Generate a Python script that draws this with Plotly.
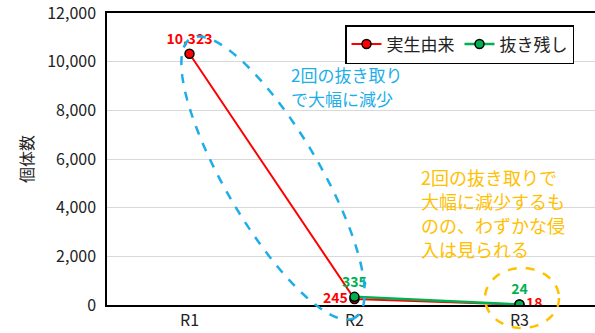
import numpy as np
import plotly.graph_objects as go

categories = ["R1", "R2", "R3"]
seedling = [10323, 245, 18]          # 実生由来
remaining = [None, 335, 24]           # 抜き残し
seedling_labels = ["10,323", "245", "18"]
remaining_labels = ["", "335", "24"]
yticks = [0, 2000, 4000, 6000, 8000, 10000, 12000]
blue_note = ["2回の抜き取り", "で大幅に減少"]
orange_note = ["2回の抜き取りで", "大幅に減少するも", "のの、わずかな侵", "入は見られる"]

W, H = 595, 333
ML, MR, MT, MB = 107, 0, 13, 28
PW, PH = W - ML - MR, H - MT - MB
XR = [-0.5, 2.458]
YR = [0, 12000]

JP = "Noto Sans CJK JP"
RED = "#FF0000"
GREEN = "#00B050"
BLUE = "#1CAEE8"
ORANGE = "#FFC000"

fig = go.Figure()
fig.add_trace(go.Scatter(
    x=categories, y=seedling, name="実生由来",
    mode="lines+markers+text",
    line=dict(color=RED, width=2),
    marker=dict(color=RED, size=9, line=dict(color="black", width=1.5)),
    text=seedling_labels,
    textposition=["top center", "middle left", "middle right"],
    textfont=dict(color=RED, size=14, family=JP, weight="bold"),
))
fig.add_trace(go.Scatter(
    x=categories, y=remaining, name="抜き残し",
    mode="lines+markers+text",
    line=dict(color=GREEN, width=2.5),
    marker=dict(color=GREEN, size=9, line=dict(color="black", width=1.5)),
    text=remaining_labels,
    textposition=["top center", "top center", "top center"],
    textfont=dict(color=GREEN, size=14, family=JP, weight="bold"),
))

def to_paper(px, py):
    return (px - ML) / PW, (H - MB - py) / PH

def ellipse_path(cx, cy, a, b, ang_deg, n=120):
    t = np.linspace(0, 2 * np.pi, n)
    ang = np.radians(ang_deg)
    xs = cx + a * np.cos(t) * np.cos(ang) - b * np.sin(t) * np.sin(ang)
    ys = cy + a * np.cos(t) * np.sin(ang) + b * np.sin(t) * np.cos(ang)
    pts = [to_paper(x, y) for x, y in zip(xs, ys)]
    return "M " + " L ".join(f"{x:.5f},{y:.5f}" for x, y in pts) + " Z"

fig.add_shape(type="path", xref="paper", yref="paper",
              path=ellipse_path(273, 178, 162, 47, 59.5),
              line=dict(color=BLUE, width=2.5, dash="dash"))
fig.add_shape(type="path", xref="paper", yref="paper",
              path=ellipse_path(522, 298, 37, 30, 0),
              line=dict(color=ORANGE, width=2.5, dash="dash"))

for i, line in enumerate(blue_note):
    xp, yp = to_paper(289, 75 + 24 * i)
    fig.add_annotation(x=xp, y=yp, xref="paper", yref="paper", xanchor="left", yanchor="middle",
                       text=line, showarrow=False, font=dict(color=BLUE, size=17, family=JP))
for i, line in enumerate(orange_note):
    xp, yp = to_paper(419, 177 + 24 * i)
    fig.add_annotation(x=xp, y=yp, xref="paper", yref="paper", xanchor="left", yanchor="middle",
                       text=line, showarrow=False, font=dict(color=ORANGE, size=18, family=JP))

lx, ly = to_paper(345, 25)
fig.update_layout(
    width=W, height=H,
    margin=dict(l=ML, r=MR, t=MT, b=MB),
    paper_bgcolor="white", plot_bgcolor="white",
    font=dict(family=JP, color="#222222"),
    showlegend=True,
    legend=dict(orientation="h", x=lx, y=ly, xanchor="left", yanchor="top",
                bordercolor="black", borderwidth=1.5, bgcolor="white",
                font=dict(size=17, family=JP), itemwidth=30,
                tracegroupgap=0),
    xaxis=dict(range=XR, type="category", showline=True, linecolor="black", linewidth=1.5,
               mirror=True, showgrid=False, ticks="", tickfont=dict(size=16, family=JP),
               zeroline=False),
    yaxis=dict(range=YR, tickvals=yticks, tickformat=",", showline=True, linecolor="black",
               linewidth=1.5, showgrid=True, gridcolor="#D9D9D9", gridwidth=1,
               zeroline=False, ticks="", tickfont=dict(size=16, family=JP),
               ticklabelstandoff=6, ticklabeloverflow="allow",
               title=dict(text="個体数", font=dict(size=16, family=JP), standoff=10)),
)

fig.write_html("out.html")
